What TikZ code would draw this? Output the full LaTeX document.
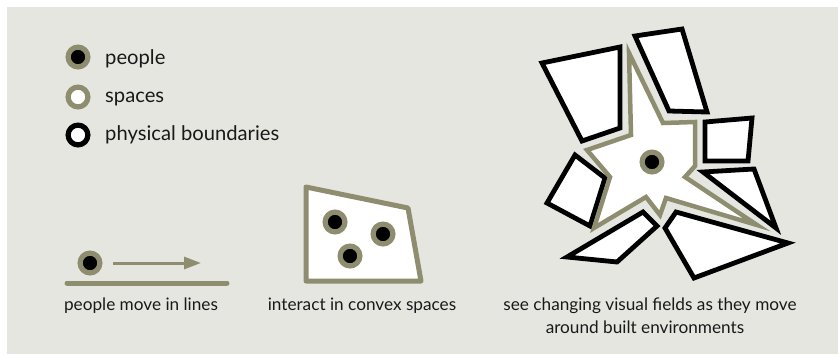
\documentclass[tikz,border=0pt]{standalone}
\usepackage{fontspec}
\setmainfont{Lato}
\usetikzlibrary{arrows.meta}
\definecolor{olive}{RGB}{142,141,112}
\definecolor{bggrey}{RGB}{230,230,225}
\definecolor{txt}{RGB}{25,25,25}
\tikzset{
  person/.style={circle, inner sep=0pt, minimum size=19.8pt, line width=5.2pt, draw=olive, fill=black},
  spacedot/.style={circle, inner sep=0pt, minimum size=19.8pt, line width=5.2pt, draw=olive, fill=white},
  bounddot/.style={circle, inner sep=0pt, minimum size=19.8pt, line width=5.2pt, draw=black, fill=white},
  legendtext/.style={anchor=base west, inner sep=0pt, text=txt, font=\fontsize{20.2}{24}\selectfont},
  caption/.style={anchor=base, inner sep=0pt, text=txt, font=\fontsize{17.2}{23}\selectfont},
  wall/.style={draw=black, fill=white, line width=4.8pt, miter limit=10},
  convex/.style={draw=olive, fill=white, line width=5pt, line join=round},
  isovist/.style={draw=olive, fill=white, line width=4.5pt, miter limit=10},
}
\begin{document}
\begin{tikzpicture}[x=1pt, y=-1pt]
\useasboundingbox (0,0) rectangle (838,354);
\fill[white] (0,0) rectangle (838,354);
\fill[bggrey] (7,7) rectangle (838,354);

% legend
\node[person] (lp) at (78,57) {};
\node[spacedot] (ls) at (78,97) {};
\node[bounddot] (lb) at (78,135) {};
\node[legendtext] (lpt) at (105,64) {people};
\node[legendtext] (lst) at (105,102) {spaces};
\node[legendtext] (lbt) at (105,140) {physical boundaries};

% people move in lines
\draw[olive, line width=5pt, line cap=round] (67,283) -- (227,283);
\node[person] (mp) at (90,263) {};
\coordinate (as) at (113,263);
\coordinate (ae) at (201,263);
\draw[olive, line width=3pt, -{Triangle[length=17pt,width=12pt]}] (as) -- (ae);
\node[caption] (c1) at (141,310) {people move in lines};

% interact in convex spaces
\draw[convex] (306,187) -- (408,208) -- (421,281) -- (306,281) -- cycle;
\node[person] (p1) at (335,222) {};
\node[person] (p2) at (383,234) {};
\node[person] (p3) at (350,256) {};
\node[caption] (c2) at (362,310) {interact in convex spaces};

% visual fields
\draw[wall] (542,63) -- (620,47) -- (620,128) -- (582,141) -- cycle;
\draw[wall] (635,36) -- (682,29) -- (707,112) -- (669,111) -- cycle;
\draw[wall] (705,122) -- (752,118) -- (748,161) -- (705,161) -- cycle;
\draw[wall] (703,172) -- (754,169) -- (776,228) -- cycle;
\draw[wall] (665,228) -- (676,212) -- (788,243) -- (694,278) -- cycle;
\draw[wall] (567,257) -- (643,212) -- (657,226) -- (617,262) -- cycle;
\draw[wall] (575,155) -- (605,178) -- (590,226) -- (547,203) -- cycle;
\draw[isovist] (629,53) -- (663,123) -- (695,122) -- (695,166) -- (685,177)
  -- (757,225) -- (666,198) -- (660,215) -- (646,197) -- (594,228)
  -- (610,177) -- (587,150) -- (631,135) -- cycle;
\node[person] (cp) at (652,162) {};
\node[caption] (c3a) at (650,310) {see changing visual fields as they move};
\node[caption] (c3b) at (645,333) {around built environments};
\end{tikzpicture}
\end{document}
